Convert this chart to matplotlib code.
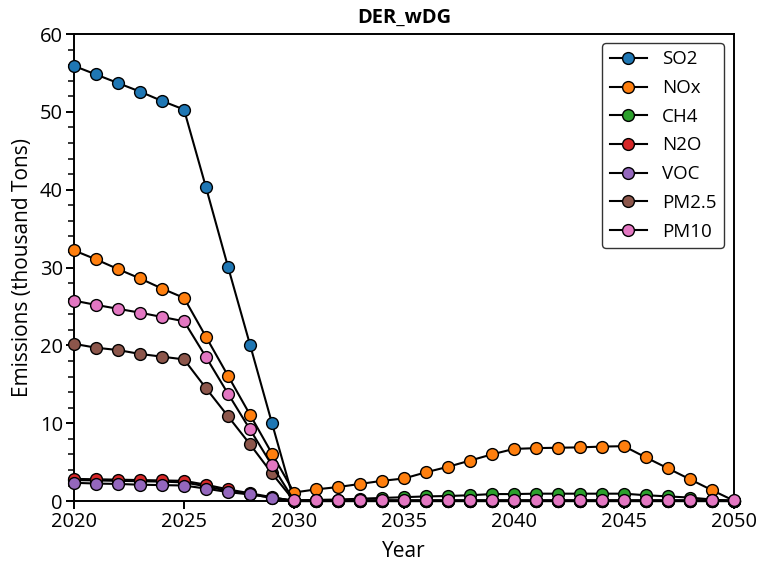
import matplotlib
matplotlib.use('Agg')
import matplotlib.pyplot as plt
from matplotlib.ticker import MultipleLocator

plt.rcParams['font.family'] = ['Open Sans', 'DejaVu Sans']

# Data (thousand tons), years 2020-2050
YEARS = list(range(2020, 2051))
SO2 = [55.9, 54.8, 53.7, 52.6, 51.4, 50.3, 40.3, 30.1, 20.1, 10.0,
       0.0, 0.0, 0.0, 0.0, 0.0, 0.0, 0.0, 0.0, 0.0, 0.0,
       0.0, 0.0, 0.0, 0.0, 0.0, 0.0, 0.0, 0.0, 0.0, 0.0, 0.0]
NOX = [32.2, 31.05, 29.8, 28.6, 27.3, 26.1, 21.1, 16.1, 11.1, 6.1,
       1.1, 1.5, 1.8, 2.2, 2.6, 2.9, 3.7, 4.4, 5.2, 6.0,
       6.7, 6.8, 6.85, 6.9, 7.0, 7.05, 5.6, 4.2, 2.8, 1.4, 0.05]
CH4 = [2.7, 2.65, 2.6, 2.55, 2.5, 2.4, 1.9, 1.3, 0.9, 0.4,
       0.05, 0.15, 0.2, 0.3, 0.4, 0.5, 0.6, 0.65, 0.75, 0.9,
       0.9, 0.95, 0.95, 0.95, 0.95, 0.95, 0.75, 0.6, 0.45, 0.2, 0.0]
N2O = [2.85, 2.8, 2.75, 2.7, 2.65, 2.6, 2.1, 1.5, 1.0, 0.5,
       0.0, 0.0, 0.0, 0.0, 0.0, 0.0, 0.0, 0.0, 0.0, 0.0,
       0.0, 0.0, 0.0, 0.0, 0.0, 0.0, 0.0, 0.0, 0.0, 0.0, 0.0]
VOC = [2.35, 2.25, 2.2, 2.1, 2.05, 2.0, 1.6, 1.15, 0.85, 0.45,
       0.05, 0.05, 0.05, 0.05, 0.05, 0.05, 0.05, 0.05, 0.05, 0.05,
       0.05, 0.05, 0.05, 0.05, 0.05, 0.05, 0.05, 0.05, 0.05, 0.05, 0.0]
PM25 = [20.2, 19.7, 19.4, 18.9, 18.55, 18.2, 14.5, 10.9, 7.3, 3.55,
        0.05, 0.05, 0.05, 0.05, 0.05, 0.05, 0.05, 0.05, 0.05, 0.05,
        0.05, 0.05, 0.05, 0.05, 0.05, 0.05, 0.05, 0.05, 0.05, 0.05, 0.0]
PM10 = [25.75, 25.2, 24.7, 24.2, 23.65, 23.1, 18.5, 13.8, 9.2, 4.6,
        0.1, 0.1, 0.1, 0.1, 0.1, 0.1, 0.1, 0.1, 0.1, 0.1,
        0.1, 0.1, 0.1, 0.1, 0.1, 0.1, 0.1, 0.1, 0.1, 0.1, 0.1]

SERIES = [('SO2', SO2, '#1f77b4'), ('NOx', NOX, '#ff7f0e'), ('CH4', CH4, '#2ca02c'),
          ('N2O', N2O, '#d62728'), ('VOC', VOC, '#9467bd'), ('PM2.5', PM25, '#8c564b'),
          ('PM10', PM10, '#e377c2')]

fig = plt.figure(figsize=(7.59, 5.63), dpi=100)
ax = fig.add_axes([0.0975, 0.110, 0.8695, 0.8296])

for name, vals, col in SERIES:
    ax.plot(YEARS, vals, '-o', color='black', lw=1.5, markersize=8.5,
            markerfacecolor=col, markeredgecolor='black', markeredgewidth=1.0,
            label=name, clip_on=False, zorder=3)

ax.set_xlim(2020, 2050)
ax.set_ylim(0, 60)
ax.xaxis.set_major_locator(MultipleLocator(5))
ax.yaxis.set_major_locator(MultipleLocator(10))
ax.yaxis.set_minor_locator(MultipleLocator(2))
ax.tick_params(axis='both', which='major', labelsize=14.5, length=6, width=1.4, pad=2)
ax.tick_params(axis='y', which='minor', length=4, width=1.1)
for sp in ax.spines.values():
    sp.set_linewidth(1.4)

ax.set_xlabel('Year', fontsize=15, labelpad=6)
ax.set_ylabel('Emissions (thousand Tons)', fontsize=15, labelpad=5)
ax.set_title('DER_wDG', fontsize=14.5, fontweight='bold', pad=8)

leg = ax.legend(loc='upper right', fontsize=13.5, frameon=True, fancybox=True,
                edgecolor='black', handlelength=2.0, handletextpad=0.8,
                borderpad=0.4, labelspacing=0.57, borderaxespad=0,
                bbox_to_anchor=(0.985, 0.981))
leg.get_frame().set_linewidth(1.0)

fig.savefig('out.png', dpi=100)
